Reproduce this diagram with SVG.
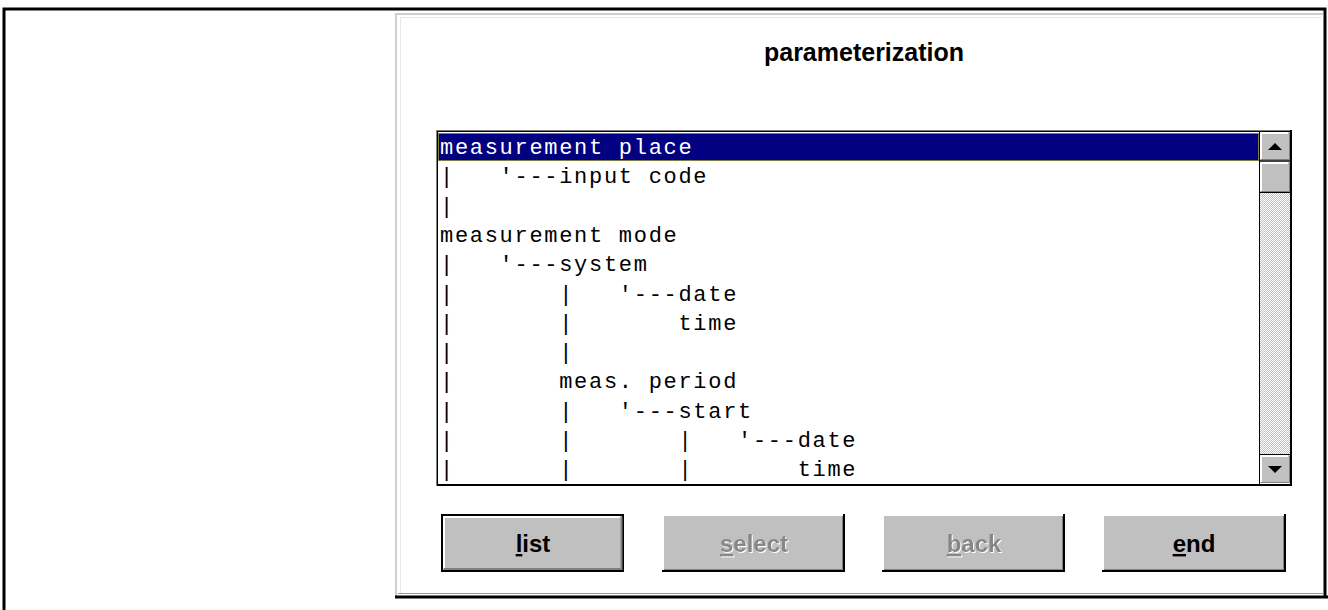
<svg xmlns="http://www.w3.org/2000/svg" width="1328" height="610" viewBox="0 0 1328 610">
<style>
.mono{font-family:"Liberation Mono","DejaVu Sans Mono",monospace;font-size:22px;letter-spacing:1.7px;white-space:pre;fill:#000}
.sel{fill:#fff}
.title{font-family:"Liberation Sans",Arial,sans-serif;font-weight:bold;font-size:25px;fill:#000}
.btn{font-family:"Liberation Sans",Arial,sans-serif;font-weight:bold;font-size:24px;text-anchor:middle}
.face{fill:#c0c0c0}
.hi{fill:none;stroke:#fff;stroke-width:2}
.sh{fill:none;stroke:#808080;stroke-width:1}
.bk{fill:none;stroke:#000;stroke-width:2}
.dis{fill:#868686;filter:url(#emboss)}
</style>
<defs>
<pattern id="dither" width="2" height="2" patternUnits="userSpaceOnUse">
<rect width="2" height="2" fill="#c0c0c0"/>
<rect width="1" height="1" fill="#fff"/>
<rect x="1" y="1" width="1" height="1" fill="#fff"/>
</pattern>
<clipPath id="listclip"><rect x="438" y="132" width="821" height="351"/></clipPath>
<filter id="emboss" x="-10%" y="-20%" width="120%" height="140%">
<feFlood flood-color="#ffffff" result="w"/>
<feComposite in="w" in2="SourceAlpha" operator="in" result="wa"/>
<feOffset in="wa" dx="1" dy="1" result="off"/>
<feMerge><feMergeNode in="off"/><feMergeNode in="SourceGraphic"/></feMerge>
</filter>
</defs>
<rect width="1328" height="610" fill="#fff"/>

<g id="frame">
<path d="M4,610 V9 H1325 V597" fill="none" stroke="#000" stroke-width="3"/>
</g>

<g id="dialog">
<path d="M396,597 V14 H1323" fill="none" stroke="#cfcfcf" stroke-width="2"/>
<path d="M400.5,593 V17.5 H1322" fill="none" stroke="#e6e6e6" stroke-width="1"/>
<line x1="398" y1="593.5" x2="1323" y2="593.5" stroke="#9a9a9a" stroke-width="1"/>
<line x1="395" y1="597" x2="1328" y2="597" stroke="#000" stroke-width="3"/>
</g>

<g id="title">
<text class="title" x="864" y="61" text-anchor="middle">parameterization</text>
</g>

<g id="listbox">
<rect x="436.5" y="130.5" width="855" height="355" fill="#fff" stroke="#808080" stroke-width="1"/>
<rect x="437.5" y="131.5" width="853" height="353" fill="none" stroke="#000" stroke-width="1"/>
<rect x="438" y="133" width="821" height="28" fill="#000080"/>
<rect x="438.5" y="133.5" width="820" height="27" fill="none" stroke="#ffff00" stroke-width="1" stroke-dasharray="1 1"/>
<g clip-path="url(#listclip)">
<text class="mono sel" x="440" y="154" xml:space="preserve">measurement place</text>
<text class="mono" x="440" y="183.3" xml:space="preserve">|   '---input code</text>
<text class="mono" x="440" y="212.6" xml:space="preserve">|</text>
<text class="mono" x="440" y="241.9" xml:space="preserve">measurement mode</text>
<text class="mono" x="440" y="271.2" xml:space="preserve">|   '---system</text>
<text class="mono" x="440" y="300.5" xml:space="preserve">|       |   '---date</text>
<text class="mono" x="440" y="329.8" xml:space="preserve">|       |       time</text>
<text class="mono" x="440" y="359.1" xml:space="preserve">|       |</text>
<text class="mono" x="440" y="388.4" xml:space="preserve">|       meas. period</text>
<text class="mono" x="440" y="417.7" xml:space="preserve">|       |   '---start</text>
<text class="mono" x="440" y="447" xml:space="preserve">|       |       |   '---date</text>
<text class="mono" x="440" y="476.3" xml:space="preserve">|       |       |       time</text>
</g>
</g>

<g id="scrollbar">
<line x1="1259.5" y1="131" x2="1259.5" y2="484" stroke="#000" stroke-width="1"/>
<rect x="1260" y="192" width="30" height="263" fill="url(#dither)"/>
<rect x="1260" y="132" width="30" height="28" class="face"/>
<path d="M1261,159 V133 H1288" class="hi"/>
<path d="M1261,159.5 H1289.5 V133" class="sh"/>
<line x1="1260" y1="161" x2="1290" y2="161" stroke="#000" stroke-width="1.5"/>
<polygon points="1268,150 1282,150 1275,143" fill="#000"/>
<rect x="1260" y="162" width="30" height="30" class="face"/>
<path d="M1261,191 V163 H1288" class="hi"/>
<path d="M1261,191.5 H1289.5 V163" class="sh"/>
<line x1="1260" y1="192.5" x2="1290" y2="192.5" stroke="#000" stroke-width="1"/>
<line x1="1260" y1="454.5" x2="1290" y2="454.5" stroke="#000" stroke-width="1"/>
<rect x="1260" y="455" width="30" height="28" class="face"/>
<path d="M1261,482 V456 H1288" class="hi"/>
<path d="M1261,482.5 H1289.5 V456" class="sh"/>
<polygon points="1268,466 1282,466 1275,473" fill="#000"/>
<path d="M1291,130 V485 H437" fill="none" stroke="#000" stroke-width="2"/>
</g>

<g id="btn-list">
<rect x="442" y="515" width="181" height="56" class="face" stroke="#000" stroke-width="2"/>
<path d="M444,568 V517 H620" class="hi"/>
<path d="M444,569 H621.5 V517" fill="none" stroke="#808080" stroke-width="2"/>
<text class="btn" x="533" y="552" fill="#000"><tspan style="text-decoration:underline">l</tspan>ist</text>
</g>

<g id="btn-select">
<rect x="662" y="514" width="183" height="58" class="face"/>
<path d="M663,571 V515 H844" class="hi"/>
<path d="M662,571 H844 V514" class="bk"/>
<path d="M664,569.5 H842.5 V516" class="sh"/>
<text class="btn dis" x="754" y="552"><tspan style="text-decoration:underline">s</tspan>elect</text>
</g>

<g id="btn-back">
<rect x="882" y="514" width="183" height="58" class="face"/>
<path d="M883,571 V515 H1064" class="hi"/>
<path d="M882,571 H1064 V514" class="bk"/>
<path d="M884,569.5 H1062.5 V516" class="sh"/>
<text class="btn dis" x="974" y="552"><tspan style="text-decoration:underline">b</tspan>ack</text>
</g>

<g id="btn-end">
<rect x="1102" y="514" width="184" height="58" class="face"/>
<path d="M1103,571 V515 H1285" class="hi"/>
<path d="M1102,571 H1285 V514" class="bk"/>
<path d="M1104,569.5 H1283.5 V516" class="sh"/>
<text class="btn" x="1194" y="552" fill="#000"><tspan style="text-decoration:underline">e</tspan>nd</text>
</g>

<g id="connectors"></g>
</svg>
